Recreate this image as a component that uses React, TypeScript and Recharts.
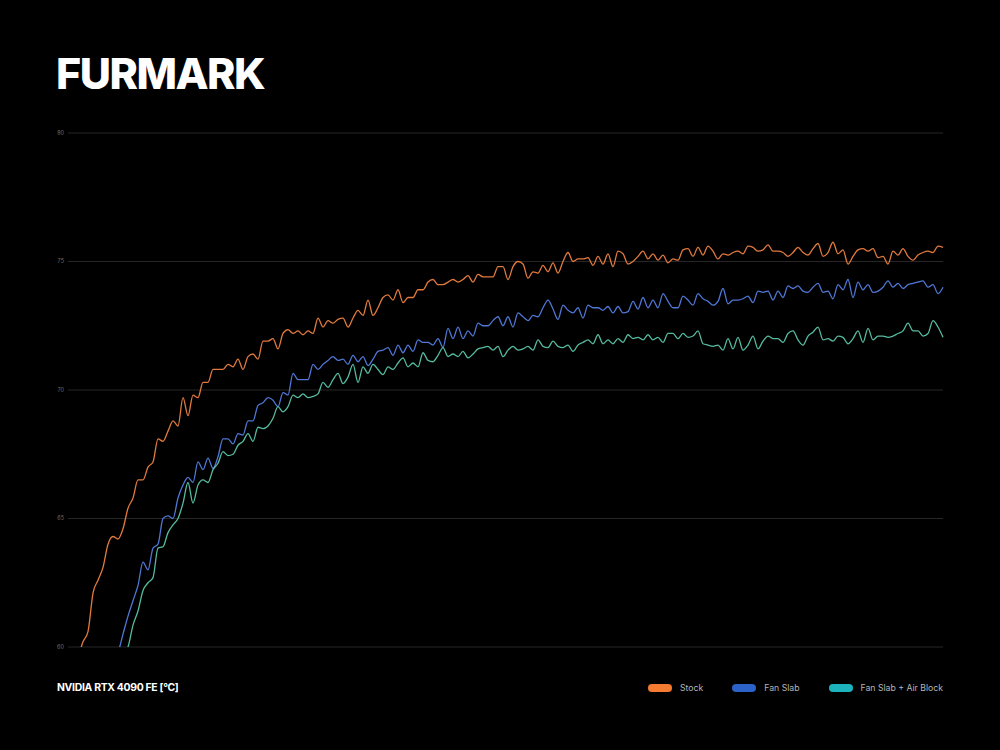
import React from "react";
import { LineChart, Line, XAxis, YAxis, CartesianGrid } from "recharts";

// GPU temperature over the FurMark run, one sample per step
const stock = [
  58.6, 59.1, 59.6, 60.2, 60.6, 62.1, 62.6, 63.1, 64.0, 64.3,
  64.2, 64.6, 65.4, 65.8, 66.5, 66.5, 67.0, 67.2, 68.1, 68.0,
  68.4, 68.8, 68.6, 69.7, 69.0, 69.8, 69.7, 70.3, 70.3, 70.8,
  70.8, 70.8, 71.0, 70.9, 71.2, 70.8, 71.3, 71.4, 71.2, 71.9,
  71.9, 72.0, 71.6, 72.2, 72.35, 72.2, 72.3, 72.15, 72.3, 72.2,
  72.8, 72.45, 72.7, 72.6, 72.75, 72.8, 72.45, 72.8, 73.1, 72.9,
  73.5, 72.9, 73.2, 73.6, 73.7, 73.5, 73.9, 73.4, 73.6, 73.6,
  73.9, 73.9, 74.2, 74.3, 74.1, 74.1, 74.2, 74.3, 74.2, 74.3,
  74.45, 74.2, 74.5, 74.4, 74.4, 74.4, 74.8, 74.8, 74.3, 74.8,
  75.0, 74.9, 74.35, 74.6, 74.55, 74.85, 74.6, 74.95, 74.55, 75.0,
  75.35, 75.0, 75.1, 75.1, 75.15, 74.85, 75.2, 74.9, 75.3, 74.8,
  75.4, 75.3, 74.9, 75.0, 75.2, 75.4, 75.1, 75.3, 75.05, 75.25,
  74.95, 75.1, 75.05, 75.45, 75.5, 75.2, 75.55, 75.25, 75.6, 75.4,
  75.1, 75.3, 75.25, 75.35, 75.4, 75.3, 75.6, 75.55, 75.4, 75.45,
  75.65, 75.4, 75.4, 75.35, 75.2, 75.35, 75.55, 75.35, 75.25, 75.5,
  75.7, 75.2, 75.35, 75.75, 75.3, 75.45, 74.9, 75.2, 75.45, 75.5,
  75.4, 75.5, 75.15, 75.2, 74.9, 75.4, 75.25, 75.5, 75.2, 75.05,
  75.25, 75.35, 75.4, 75.35, 75.6, 75.55
];

const fanSlab = [
  55.0, 55.6, 56.2, 56.8, 57.3, 57.8, 58.3, 58.8, 59.2, 59.6,
  59.8, 60.5, 61.2, 61.8, 62.4, 63.3, 63.0, 63.85, 64.0, 65.0,
  65.1, 65.0, 65.8, 66.3, 66.6, 66.4, 67.2, 66.9, 67.35, 66.95,
  67.4, 68.1, 68.1, 67.9, 68.3, 68.25, 68.8, 68.8, 69.4, 69.5,
  69.7, 69.6, 69.35, 69.9, 69.8, 70.65, 70.4, 70.4, 70.4, 71.0,
  70.8, 71.0, 71.15, 71.3, 71.15, 71.2, 71.0, 71.35, 71.1, 71.3,
  70.95, 71.2, 71.5, 71.55, 71.65, 71.35, 71.75, 71.45, 71.75, 71.5,
  71.95, 71.85, 71.85, 71.75, 72.0, 71.65, 72.4, 72.0, 72.45, 72.0,
  72.3, 72.1, 72.6, 72.5, 72.5, 72.7, 72.85, 72.5, 72.85, 72.45,
  73.0, 72.85, 72.7, 72.9, 72.85, 73.2, 73.5, 73.15, 72.75, 73.3,
  73.1, 73.0, 73.2, 72.8, 73.3, 73.2, 73.2, 73.1, 73.25, 73.0,
  73.25, 73.0, 73.05, 73.45, 73.15, 73.6, 73.2, 73.5, 73.2, 73.75,
  73.45, 73.2, 73.2, 73.65, 73.5, 73.3, 73.75, 73.55, 73.45, 73.3,
  73.45, 73.95, 73.35, 73.5, 73.5, 73.55, 73.65, 73.4, 73.85, 73.8,
  73.85, 73.5, 73.85, 73.6, 74.05, 73.95, 74.05, 73.85, 73.8, 74.0,
  74.15, 73.8, 73.85, 73.55, 74.1, 73.9, 74.3, 73.6, 74.2, 73.9,
  74.1, 73.8, 73.85, 74.0, 74.25, 74.0, 74.15, 73.95, 74.1, 74.15,
  74.2, 74.25, 74.0, 74.1, 73.75, 74.0
];

const fanSlabAirBlock = [
  54.8, 55.4, 55.9, 56.4, 56.9, 57.4, 57.9, 58.3, 58.7, 59.1,
  59.4, 59.7, 60.0, 60.85, 61.4, 62.2, 62.5, 62.7, 63.85, 63.9,
  64.45, 64.75, 65.0, 65.6, 66.4, 65.6, 66.3, 66.5, 66.4, 66.9,
  67.15, 67.6, 67.45, 67.5, 67.85, 68.0, 68.3, 68.0, 68.55, 68.5,
  68.6, 68.9, 69.35, 69.15, 69.35, 69.8, 69.7, 69.85, 69.7, 69.75,
  69.85, 70.3, 70.1, 70.4, 70.65, 70.25, 70.5, 71.0, 70.3, 70.9,
  70.65, 71.0, 70.8, 70.6, 70.9, 70.8, 71.05, 71.25, 70.9, 71.05,
  70.9, 71.45, 71.15, 71.1, 71.35, 71.65, 71.3, 71.4, 71.3, 71.5,
  71.25, 71.4, 71.6, 71.65, 71.7, 71.55, 71.7, 71.3, 71.55, 71.7,
  71.55, 71.6, 71.7, 71.55, 71.95, 71.7, 71.65, 71.9, 71.7, 71.65,
  71.75, 71.5, 71.75, 71.85, 71.95, 71.8, 72.15, 71.8, 71.95, 71.8,
  72.0, 71.85, 72.15, 72.0, 72.05, 71.95, 72.15, 71.95, 72.05, 71.85,
  72.2, 72.2, 72.0, 72.2, 72.05, 72.1, 72.3, 71.8, 71.75, 71.7,
  71.75, 71.55, 72.0, 71.6, 72.05, 71.55, 71.75, 72.1, 71.6, 71.9,
  72.1, 72.0, 72.0, 71.85, 72.2, 72.3, 71.95, 71.75, 72.1, 72.25,
  72.45, 71.95, 72.0, 71.9, 72.1, 72.05, 71.8, 72.0, 72.3, 71.85,
  72.4, 71.95, 72.1, 72.1, 72.05, 72.1, 72.2, 72.3, 72.6, 72.3,
  72.3, 72.1, 72.2, 72.7, 72.45, 72.05
];

const yTicks = [60, 65, 70, 75, 80];

const series = [
  { key: "stock", name: "Stock", line: "#e27a3e", swatch: "#f47b30" },
  { key: "fanSlab", name: "Fan Slab", line: "#5077d6", swatch: "#2a62c8" },
  { key: "airBlock", name: "Fan Slab + Air Block", line: "#55bb9f", swatch: "#1cb3bd" }
];

const data = stock.map((v, i) => ({
  step: i,
  stock: v,
  fanSlab: fanSlab[i],
  airBlock: fanSlabAirBlock[i]
}));

const font = "Inter, 'Noto Sans', sans-serif";

export default function App() {
  return (
    <div
      style={{
        position: "fixed",
        left: 0,
        top: 0,
        width: 1000,
        height: 750,
        background: "#000",
        fontFamily: font,
        overflow: "hidden"
      }}
    >
      <div
        style={{
          position: "absolute",
          left: 56,
          top: 52,
          fontSize: 43,
          lineHeight: 1,
          fontWeight: 800,
          letterSpacing: -1.5,
          color: "#fff"
        }}
      >
        FURMARK
      </div>

      <div style={{ position: "absolute", left: 0, top: 0 }}>
        <LineChart
          width={1000}
          height={750}
          data={data}
          margin={{ top: 133, right: 57, bottom: 103, left: 54 }}
        >
          <CartesianGrid vertical={false} stroke="#262626" strokeWidth={1} />
          <XAxis dataKey="step" hide />
          <YAxis
            width={14}
            domain={[60, 80]}
            ticks={yTicks}
            allowDataOverflow
            axisLine={false}
            tickLine={false}
            tickSize={0}
            tickMargin={4}
            tick={{ fill: "#6e6e6e", fontSize: 5.5, fontFamily: font }}
          />
          {series.map((s) => (
            <Line
              key={s.key}
              type="monotone"
              dataKey={s.key}
              stroke={s.line}
              strokeWidth={1.3}
              dot={false}
              isAnimationActive={false}
            />
          ))}
        </LineChart>
      </div>

      <div
        style={{
          position: "absolute",
          left: 57,
          top: 683,
          fontSize: 10.4,
          lineHeight: 1,
          fontWeight: 700,
          letterSpacing: -0.3,
          color: "#fff"
        }}
      >
        NVIDIA RTX 4090 FE [°C]
      </div>

      <div
        style={{
          position: "absolute",
          right: 57,
          top: 684,
          display: "flex",
          alignItems: "center",
          gap: 29
        }}
      >
        {series.map((s) => (
          <div key={s.key} style={{ display: "flex", alignItems: "center", gap: 8 }}>
            <div style={{ width: 24, height: 8, borderRadius: 4, background: s.swatch }} />
            <span style={{ fontSize: 8.7, lineHeight: 1, color: "#b5b5b5" }}>{s.name}</span>
          </div>
        ))}
      </div>
    </div>
  );
}
